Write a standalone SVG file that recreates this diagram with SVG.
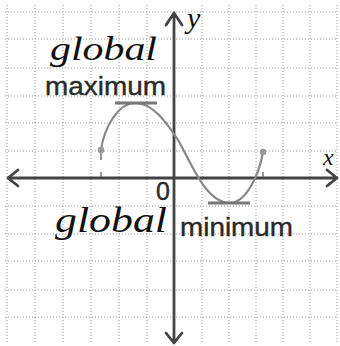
<svg xmlns="http://www.w3.org/2000/svg" width="340" height="346" viewBox="0 0 340 346">
<style>
.grid line{stroke:#9a9a9a;stroke-width:1;stroke-dasharray:1 2}
.axis{stroke:#444;stroke-width:2.8;fill:none;stroke-linecap:round;stroke-linejoin:round}
.curve{stroke:#888;stroke-width:2.2;fill:none}
.bar{stroke:#777;stroke-width:2.8}
.hand{font-family:"Liberation Serif",serif;font-style:italic;fill:#111}
.lbl{font-family:"Liberation Sans",Arial,sans-serif;fill:#2a2a2a;stroke:#2a2a2a;stroke-width:0.4}
</style>
<rect width="340" height="346" fill="#fff"/>
<g class="grid">
<line x1="7" y1="5" x2="7" y2="342"/><line x1="35" y1="5" x2="35" y2="342"/><line x1="63" y1="5" x2="63" y2="342"/><line x1="91" y1="5" x2="91" y2="342"/><line x1="119" y1="5" x2="119" y2="342"/><line x1="147" y1="5" x2="147" y2="342"/>
<line x1="202" y1="5" x2="202" y2="342"/><line x1="229" y1="5" x2="229" y2="342"/><line x1="256" y1="5" x2="256" y2="342"/><line x1="283" y1="5" x2="283" y2="342"/><line x1="310" y1="5" x2="310" y2="342"/><line x1="337" y1="5" x2="337" y2="342"/>
<line x1="5" y1="12" x2="338" y2="12"/><line x1="5" y1="39" x2="338" y2="39"/><line x1="5" y1="68" x2="338" y2="68"/><line x1="5" y1="96" x2="338" y2="96"/><line x1="5" y1="123" x2="338" y2="123"/><line x1="5" y1="151" x2="338" y2="151"/>
<line x1="5" y1="206" x2="338" y2="206"/><line x1="5" y1="234" x2="338" y2="234"/><line x1="5" y1="261" x2="338" y2="261"/><line x1="5" y1="290" x2="338" y2="290"/><line x1="5" y1="317" x2="338" y2="317"/>
</g>
<g id="connectors">
<path id="x-axis" class="axis" d="M8,178 H337 M18,170 L8,178 L18,186 M327,170 L337,178 L327,186"/>
<path id="y-axis" class="axis" d="M174,13 V343 M166,25 L174,13 L182,25 M166,333 L174,343 L182,333"/>
<path class="curve" d="M101,150 C104,128 118,103 135,103 C152,103 165,120 178,140 C190,160 205,203 230,203 C244,203 258,180 263,152"/>
<path class="bar" d="M115,103 H157 M208,203 H250"/>
<path stroke="#777" stroke-width="1.5" d="M101,172 V177 M263,172 V177 M101,150 V160"/>
<circle cx="101" cy="150" r="3.2" fill="#999"/>
<circle cx="263" cy="152" r="3.2" fill="#999"/>
</g>
<g id="labels">
<text class="hand" x="50" y="60" font-size="34" textLength="107" lengthAdjust="spacingAndGlyphs">global</text>
<text class="lbl" x="45" y="95" font-size="26" textLength="121" lengthAdjust="spacingAndGlyphs">maximum</text>
<text class="hand" x="55" y="232" font-size="36" textLength="112" lengthAdjust="spacingAndGlyphs">global</text>
<text class="lbl" x="180" y="236" font-size="26" textLength="113" lengthAdjust="spacingAndGlyphs">minimum</text>
<text class="lbl" x="156" y="200" font-size="25">0</text>
<text class="hand" x="187" y="28" font-size="30">y</text>
<text class="hand" x="323" y="165" font-size="24">x</text>
</g>
</svg>
